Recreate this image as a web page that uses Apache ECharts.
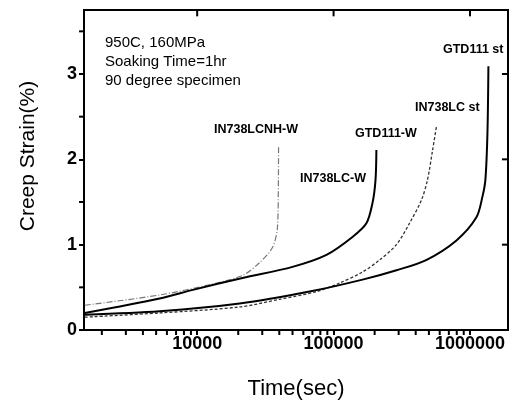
<!DOCTYPE html>
<html><head><meta charset="utf-8">
<script src="https://cdn.jsdelivr.net/npm/echarts@6/dist/echarts.min.js"></script>
<style>html,body{margin:0;padding:0;background:#fff}#c{width:513px;height:401px}</style>
</head><body><div id="c"></div>
<script>
// Data (time in s, creep strain in %)
const xMin = 1480, xMax = 1900000;
const yMin = 0, yMax = 3.75;
const xTickLabels = ['10000', '100000', '1000000'];
const yTickLabels = ['0', '1', '2', '3'];
const xMajorTicks = [10000, 100000, 1000000];
const yMajorTicks = [1, 2, 3];
const xMinorTicks = [2000,3000,4000,5000,6000,7000,8000,9000,20000,30000,40000,50000,60000,70000,80000,90000,200000,300000,400000,500000,600000,700000,800000,900000];
const yMinorTicks = [0.5, 1.5, 2.5, 3.5];
const in738lcnhW = [[1500,0.29],[5300,0.41],[12300,0.53],[21500,0.64],[28700,0.79],[35700,0.97],[38800,1.21],[39400,1.76],[39500,2.15]];
const in738lcW = [[1500,0.20],[5300,0.37],[9300,0.47],[21500,0.61],[50000,0.74],[88700,0.88],[137600,1.09],[174000,1.25],[193000,1.49],[203000,1.76],[206000,2.11]];
const in738lcSt = [[1500,0.15],[5300,0.20],[20500,0.27],[40200,0.36],[75000,0.45],[110600,0.55],[163000,0.68],[217000,0.82],[289000,1.00],[360000,1.25],[440000,1.52],[488000,1.76],[531000,2.10],[570000,2.40]];
const gtd111St = [[1500,0.18],[5300,0.22],[20500,0.31],[66700,0.45],[163000,0.59],[289000,0.70],[477000,0.82],[796000,1.05],[1115000,1.32],[1233000,1.56],[1297000,1.76],[1343000,2.31],[1365000,3.09]];
const curveLabels = ['IN738LCNH-W', 'GTD111-W', 'IN738LC-W', 'IN738LC st', 'GTD111 st'];
const conditionLines = ['950C, 160MPa', 'Soaking Time=1hr', '90 degree specimen'];

const chart = echarts.init(document.getElementById('c'), null, {renderer: 'canvas'});
const F = 'Liberation Sans, Arial, sans-serif';
const labelPos = [[214,123],[355,127],[300,172],[415,101],[443,43]];
const condPos = [[105,35],[105,54],[105,73]];

const graphics = [];
curveLabels.forEach((t, i) => graphics.push({type:'text', left:labelPos[i][0], top:labelPos[i][1],
  style:{text:t, font:'bold 12.5px ' + F, fill:'#000'}}));
conditionLines.forEach((t, i) => graphics.push({type:'text', left:condPos[i][0], top:condPos[i][1],
  style:{text:t, font:'15px ' + F, fill:'#000'}}));

const showX = v => xTickLabels.indexOf(String(Math.round(v))) >= 0 ? String(Math.round(v)) : '';
const showY = v => yTickLabels.indexOf(String(v)) >= 0 ? String(v) : '';
const lineCommon = {type: 'line', showSymbol: false, smooth: 0.3, xAxisIndex: 0, yAxisIndex: 0};
const tickSeries = (data, size, offset) => ({type: 'scatter', xAxisIndex: 0, yAxisIndex: 0, data: data, clip: false,
  silent: true, symbol: 'rect', symbolSize: size, symbolOffset: offset, itemStyle: {color: '#000', opacity: 1}, z: 10});
// frame ticks sit a hair inside the axis extent so they are not dropped at the edge
const edgeTop = yMax * 0.999, edgeRight = xMax * 0.999, edgeLeft = xMin * 1.001;

chart.setOption({
  animation: false,
  backgroundColor: '#fff',
  grid: {left: 84, right: 5, top: 10, bottom: 71, outerBoundsMode: 'none', containLabel: false,
         show: true, borderColor: '#000', borderWidth: 2, backgroundColor: 'transparent'},
  xAxis: [{
    type: 'log', logBase: 10, min: xMin, max: xMax, position: 'bottom',
    name: 'Time(sec)', nameLocation: 'middle', nameGap: 48,
    nameTextStyle: {fontFamily: F, fontSize: 22, color: '#000'},
    axisLine: {show: true, onZero: false, lineStyle: {color: '#000', width: 2}},
    axisTick: {show: true, inside: false, length: 5, lineStyle: {color: '#000', width: 2}},
    axisLabel: {formatter: showX, fontFamily: F, fontSize: 18, fontWeight: 'bold', color: '#000', margin: 5, showMinLabel: false, showMaxLabel: false},
    splitLine: {show: false}
  }],
  yAxis: [{
    type: 'value', min: yMin, max: yMax, interval: 1, position: 'left',
    name: 'Creep Strain(%)', nameLocation: 'middle', nameGap: 45,
    nameTextStyle: {fontFamily: F, fontSize: 21, color: '#000', padding: [0, 0, 0, 28]},
    axisLine: {show: true, onZero: false, lineStyle: {color: '#000', width: 2}},
    axisTick: {show: true, inside: false, length: 5, lineStyle: {color: '#000', width: 2}},
    axisLabel: {formatter: showY, fontFamily: F, fontSize: 18, fontWeight: 'bold', color: '#000', margin: 7, showMaxLabel: false},
    splitLine: {show: false}
  }],
  series: [
    Object.assign({name: 'IN738LCNH-W', data: in738lcnhW, lineStyle: {color: '#777', width: 1.2, type: [6, 2, 1, 2]}}, lineCommon),
    Object.assign({name: 'IN738LC-W', data: in738lcW, lineStyle: {color: '#000', width: 2}}, lineCommon),
    Object.assign({name: 'IN738LC st', data: in738lcSt, lineStyle: {color: '#333', width: 1.3, type: [3, 2]}}, lineCommon),
    Object.assign({name: 'GTD111 st', data: gtd111St, lineStyle: {color: '#000', width: 2}}, lineCommon),
    // axis ticks placed through the axis scales
    tickSeries(xMinorTicks.map(v => [v, yMin]), [2, 4], [0, 3]),
    tickSeries(yMinorTicks.map(v => [edgeLeft, v]), [4, 2], [-3, 0]),
    tickSeries(xMajorTicks.map(v => [v, edgeTop]), [2, 6], [0, 3]),
    tickSeries(yMajorTicks.map(v => [edgeRight, v]), [6, 2], [-3, 0])
  ],
  graphic: graphics
});
</script></body></html>
